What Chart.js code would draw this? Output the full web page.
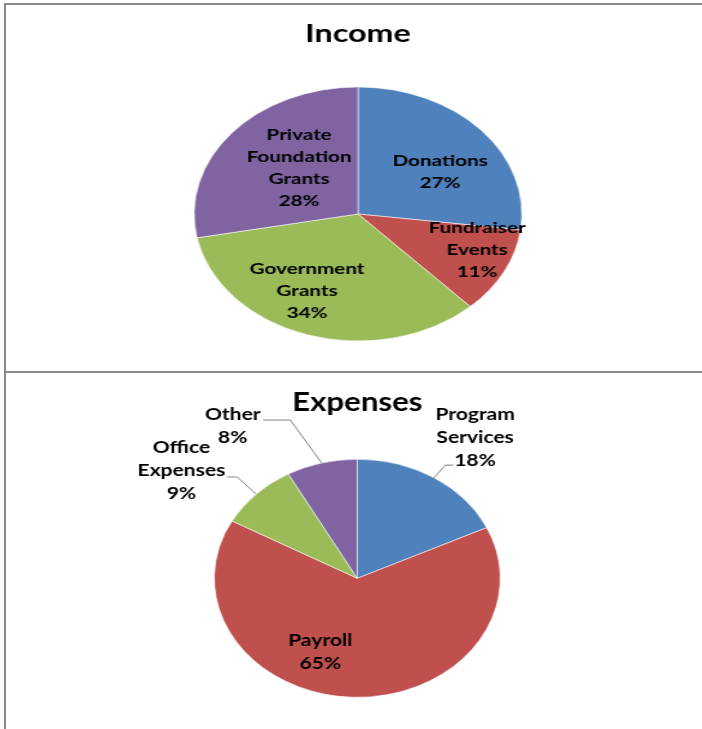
<!DOCTYPE html>
<html>
<head>
<meta charset="utf-8">
<script src="https://cdn.jsdelivr.net/npm/chart.js@4/dist/chart.umd.min.js"></script>
<style>
  html, body { margin: 0; padding: 0; background: #fff; width: 702px; height: 729px; overflow: hidden; }
  .frame { position: absolute; left: 4px; top: 3px; width: 720px; height: 740px;
           border-top: 2px solid #878787; border-left: 2px solid #878787; box-sizing: border-box; }
  .sep { position: absolute; left: 4px; top: 371px; width: 720px; height: 2px; background: #878787; }
  .wrap { position: absolute; left: 7px; transform-origin: 0 0; }
</style>
</head>
<body>
<div class="frame"></div>
<div class="sep"></div>
<div class="wrap" id="incWrap" style="top:0px; transform: scaleX(1.2905);"><canvas id="income" width="544" height="372"></canvas></div>
<div class="wrap" id="expWrap" style="top:372px; transform: scaleX(1.2017);"><canvas id="expenses" width="583" height="357"></canvas></div>
<script>
// ---- data ----
const incomeCategories = ['Donations', 'Fundraiser Events', 'Government Grants', 'Private Foundation Grants'];
const incomeValues = [27, 11, 34, 28];
const incomeLabelLines = [['Donations'], ['Fundraiser', 'Events'], ['Government', 'Grants'], ['Private', 'Foundation', 'Grants']];

const expenseCategories = ['Program Services', 'Payroll', 'Office Expenses', 'Other'];
const expenseValues = [18, 65, 9, 8];
const expenseLabelLines = [['Program', 'Services'], ['Payroll'], ['Office', 'Expenses'], ['Other']];

const sliceColors = ['#4F81BD', '#C0504D', '#9BBB59', '#8064A2'];

// ---- label plugin ----
function makeLabelPlugin(cfg) {
  return {
    id: 'sliceLabels',
    afterDatasetsDraw(chart) {
      const meta = chart.getDatasetMeta(0);
      const ds = chart.data.datasets[0];
      const total = ds.data.reduce((a, b) => a + b, 0);
      const ctx = chart.ctx;
      ctx.save();
      ctx.font = cfg.font;
      ctx.fillStyle = '#000';
      ctx.textAlign = 'center';
      ctx.textBaseline = 'middle';
      meta.data.forEach((arc, i) => {
        const p = arc.getProps(['x', 'y', 'startAngle', 'endAngle', 'outerRadius'], true);
        const mid = (p.startAngle + p.endAngle) / 2;
        const pl = cfg.place[i];
        const a = mid + pl.a * Math.PI / 180;
        const cx = p.x + Math.cos(a) * p.outerRadius * pl.r;
        const cy = p.y + Math.sin(a) * p.outerRadius * pl.r;
        const lines = cfg.lines[i].concat([Math.round(ds.data[i] / total * 100) + '%']);
        lines.forEach((t, k) => ctx.fillText(t, cx, cy + (k - (lines.length - 1) / 2) * cfg.lineHeight));
        if (pl.leader) {
          const L = pl.leader;
          const sx = p.x + Math.cos(mid) * p.outerRadius;
          const sy = p.y + Math.sin(mid) * p.outerRadius;
          const ea = mid + L.a * Math.PI / 180;
          const ex = p.x + Math.cos(ea) * p.outerRadius * L.r;
          const ey = p.y + Math.sin(ea) * p.outerRadius * L.r;
          ctx.beginPath();
          ctx.strokeStyle = '#808080';
          ctx.lineWidth = 1;
          ctx.moveTo(sx, sy);
          ctx.lineTo(ex, ey);
          ctx.lineTo(ex + L.h, ey);
          ctx.stroke();
        }
      });
      ctx.restore();
    }
  };
}

function makePie(canvasId, title, titleSize, cats, vals, radius, titlePad, bottomPad, labelCfg) {
  return new Chart(document.getElementById(canvasId), {
    type: 'pie',
    data: {
      labels: cats,
      datasets: [{
        data: vals,
        backgroundColor: sliceColors,
        borderColor: 'rgba(255,255,255,0.55)',
        borderWidth: 1,
        hoverOffset: 0,
        radius: radius
      }]
    },
    options: {
      responsive: false,
      animation: false,
      events: [],
      layout: { padding: { top: 0, bottom: bottomPad, left: 0, right: 0 } },
      plugins: {
        legend: { display: false },
        tooltip: { enabled: false },
        title: {
          display: true,
          text: title,
          color: '#000',
          font: { family: 'Lato', size: titleSize, weight: 'bold', lineHeight: 1.2 },
          padding: titlePad
        }
      }
    },
    plugins: [makeLabelPlugin(labelCfg)]
  });
}

makePie('income', 'Income', 25, incomeCategories, incomeValues, 127,
  { top: 19, bottom: 10 }, 3, {
    font: 'bold 16px Lato',
    lineHeight: 22,
    lines: incomeLabelLines,
    place: [
      { r: 0.60, a: 7.9 },
      { r: 0.78, a: -5.7 },
      { r: 0.68, a: 9.2 },
      { r: 0.51, a: 5.6 }
    ]
  });

makePie('expenses', 'Expenses', 26, expenseCategories, expenseValues, 119,
  { top: 15.4, bottom: 12 }, 3, {
    font: 'bold 17.5px Lato',
    lineHeight: 23,
    lines: expenseLabelLines,
    place: [
      { r: 1.44, a: 2.5, leader: { r: 1.133, a: 0.5, h: 6.6 } },
      { r: 0.67, a: 20.9 },
      { r: 1.53, a: -8.5, leader: { r: 1.196, a: 0.4, h: -8.3 } },
      { r: 1.55, a: -19.8, leader: { r: 1.41, a: -5.0, h: -22.7 } }
    ]
  });
</script>
</body>
</html>
